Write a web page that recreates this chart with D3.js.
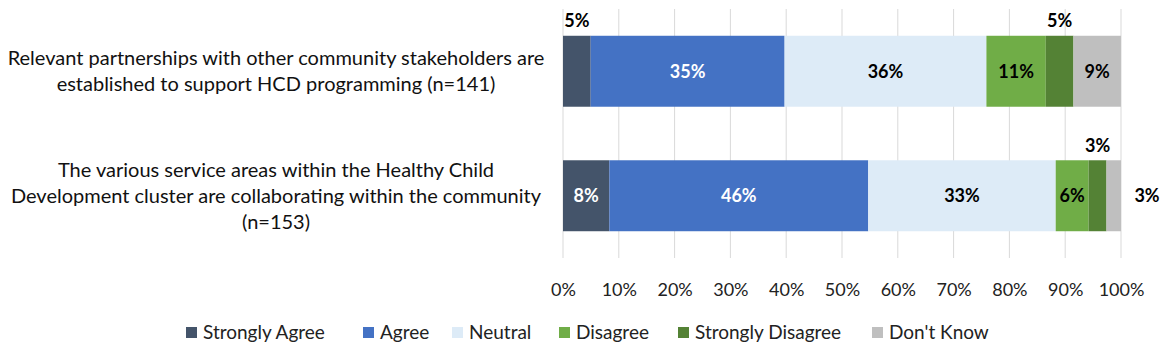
<!DOCTYPE html>
<html><head><meta charset="utf-8">
<script src="https://cdn.jsdelivr.net/npm/d3@7"></script>
<style>
html,body{margin:0;padding:0;background:#fff;}
svg{display:block;font-family:Lato,"Open Sans",sans-serif;}
</style></head>
<body>
<svg id="chart" width="1170" height="355"></svg>
<script>
const categories = [
  ["Relevant partnerships with other community stakeholders are","established to support HCD programming (n=141)"],
  ["The various service areas within the Healthy Child","Development cluster are collaborating within the community","(n=153)"]
];
const seriesNames = ["Strongly Agree","Agree","Neutral","Disagree","Strongly Disagree","Don't Know"];
const colors = ["#44546A","#4472C4","#DDEBF7","#70AD47","#548235","#BFBFBF"];
const labelColors = ["#fff","#fff","#000","#000","#000","#000"];
const row1 = [4.96, 34.75, 36.17, 10.64, 4.96, 8.51];
const row2 = [8.3, 46.4, 33.6, 5.9, 3.2, 2.6];
const rows = [row1, row2];
const tickValues = [0,10,20,30,40,50,60,70,80,90,100];
const labelText = [
  ["5%","35%","36%","11%","5%","9%"],
  ["8%","46%","33%","6%","3%","3%"]
];
// label positions: "in" = centered, "above" = over the segment, "right" = right of bar
const labelPos = [
  ["above","in","in","in","above","in"],
  ["in","in","in","in","above","right"]
];

const svg = d3.select("#chart");
const x = d3.scaleLinear().domain([0,100]).range([563,1121]);
const y = d3.scaleBand().domain([0,1]).range([9,258]).paddingInner(0.43).paddingOuter(0.215);

// gridlines
svg.append("g").selectAll("line").data(tickValues).join("line")
  .attr("x1",d=>x(d)).attr("x2",d=>x(d)).attr("y1",9).attr("y2",258)
  .attr("stroke","#D9D9D9").attr("stroke-width",1);

// axis labels
const axis = d3.axisBottom(x).tickValues(tickValues).tickFormat(d=>d+"%").tickSize(0).tickPadding(0);
const ag = svg.append("g").attr("transform","translate(0,290)").call(axis);
ag.select(".domain").remove();
ag.selectAll("text").attr("font-size",18).attr("fill","#222").attr("font-family","Lato,sans-serif").attr("dy","0.36em");

// bars
rows.forEach((vals,ri)=>{
  let cum = 0;
  const segs = vals.map((v,i)=>{const s={i,v,x0:cum,x1:cum+v}; cum+=v; return s;});
  const g = svg.append("g");
  g.selectAll("rect").data(segs).join("rect")
    .attr("x",d=>x(d.x0)).attr("width",d=>x(d.x1)-x(d.x0))
    .attr("y",y(ri)).attr("height",y.bandwidth())
    .attr("fill",d=>colors[d.i]);
  g.selectAll("text").data(segs).join("text")
    .attr("x",d=>{const p=labelPos[ri][d.i]; return p==="right"? x(100)+26 : (x(d.x0)+x(d.x1))/2;})
    .attr("y",d=>{const p=labelPos[ri][d.i]; const c=y(ri)+y.bandwidth()/2; return p==="above"? y(ri)-15 : c;})
    .attr("dy","0.36em")
    .attr("text-anchor","middle")
    .attr("font-size",18).attr("font-weight","bold")
    .attr("fill",d=>labelPos[ri][d.i]==="in"? labelColors[d.i] : "#000")
    .text(d=>labelText[ri][d.i]);
});

// category labels
categories.forEach((lines,ri)=>{
  const c = y(ri)+y.bandwidth()/2;
  const lh = 26;
  const t = svg.append("text").attr("text-anchor","middle").attr("font-size",20).attr("fill","#111");
  lines.forEach((ln,li)=>{
    t.append("tspan").attr("x",276).attr("y",c + (li-(lines.length-1)/2)*lh).attr("dy","0.36em").text(ln);
  });
});

// legend
const legX = [186,363,452,559,678,872];
const lg = svg.append("g");
seriesNames.forEach((n,i)=>{
  lg.append("rect").attr("x",legX[i]).attr("y",327).attr("width",11).attr("height",11).attr("fill",colors[i]);
  lg.append("text").attr("x",legX[i]+17).attr("y",332).attr("dy","0.36em").attr("font-size",19).attr("fill","#222").text(n);
});
</script>
</body></html>
